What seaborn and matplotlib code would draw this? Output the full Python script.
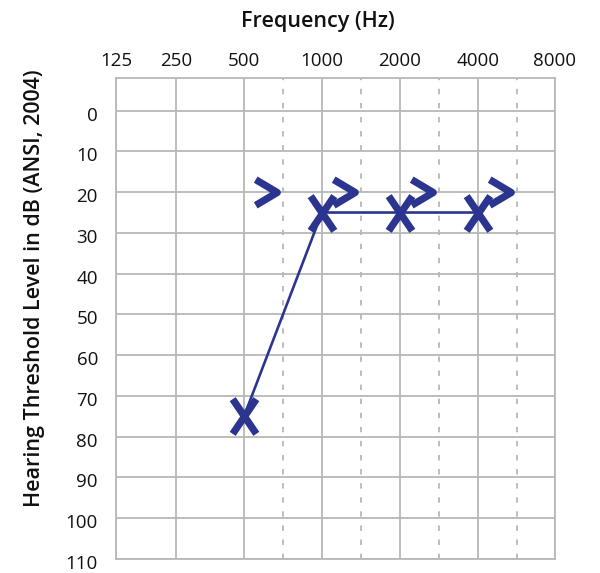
import numpy as np
import matplotlib
matplotlib.use("Agg")
import matplotlib.pyplot as plt
import matplotlib.transforms as mtransforms
from matplotlib.path import Path
import seaborn as sns

# ---- data ----
freq_labels = ["125", "250", "500", "1000", "2000", "4000", "8000"]
freqs_major = [125, 250, 500, 1000, 2000, 4000, 8000]
freqs_minor = [750, 1500, 3000, 6000]
db_ticks = [0, 10, 20, 30, 40, 50, 60, 70, 80, 90, 100, 110]

air_freq = [500, 1000, 2000, 4000]
air_db = [75, 25, 25, 25]
bone_freq = [500, 1000, 2000, 4000]
bone_db = [20, 20, 20, 20]

# ---- style ----
sns.set_style("white")
plt.rcParams["font.family"] = ["Open Sans", "DejaVu Sans"]

BLUE = "#2b3590"
GRID = "#b8b8b8"
TEXT = "#111111"

fig = plt.figure(figsize=(6.0, 5.73), dpi=100)
ax = fig.add_axes([116 / 600, 1 - 559 / 573, (555 - 116) / 600, (559 - 78) / 573])

# audiogram frequency scale (octaves drawn as on the printed form)
knot_f = np.array([125, 250, 500, 750, 1000, 1500, 2000, 3000, 4000, 6000, 8000], float)
knot_p = np.array([0, 60, 128, 167, 206, 245, 284, 323, 362, 401, 439], float)

def fwd(f):
    return np.interp(f, knot_f, knot_p)

def inv(p):
    return np.interp(p, knot_p, knot_f)

ax.set_xscale("function", functions=(fwd, inv))

# markers
x_path = Path([(-0.34, -0.5), (0.34, 0.5), (-0.34, 0.5), (0.34, -0.5)],
              [Path.MOVETO, Path.LINETO, Path.MOVETO, Path.LINETO])
chev_path = Path([(-0.42, 0.5), (0.42, 0.0), (-0.42, -0.5)],
                 [Path.MOVETO, Path.LINETO, Path.LINETO])

sns.lineplot(x=air_freq, y=air_db, ax=ax, color=BLUE, linewidth=1.9,
             marker=x_path, markersize=25, markeredgewidth=5.2,
             markerfacecolor="none", markeredgecolor=BLUE, sort=False)

offset = mtransforms.ScaledTranslation(22 / 100, 0, fig.dpi_scale_trans)
sns.lineplot(x=bone_freq, y=bone_db, ax=ax, color=BLUE, linestyle="",
             marker=chev_path, markersize=18.5, markeredgewidth=5.2,
             markerfacecolor="none", markeredgecolor=BLUE, sort=False,
             transform=ax.transData + offset)

ax.set_xlim(125, 8000)
ax.set_ylim(110, -8)

ax.set_xticks(freqs_major)
ax.set_xticklabels(freq_labels)
ax.set_xticks(freqs_minor, minor=True)
ax.set_yticks(db_ticks)
ax.set_yticklabels([str(v) for v in db_ticks])

ax.grid(which="major", color=GRID, linewidth=1.3)
ax.grid(which="minor", axis="x", color=GRID, linewidth=1.3, linestyle=(0, (3, 4.8)))
ax.set_axisbelow(True)

ax.xaxis.tick_top()
ax.tick_params(axis="x", which="both", length=0, pad=6, labelsize=13.5, labelcolor=TEXT)
ax.tick_params(axis="y", length=0, pad=13, labelsize=13.5, labelcolor=TEXT)
ax.tick_params(axis="x", which="minor", labeltop=False)

trans_y = mtransforms.ScaledTranslation(0, -3 / 100, fig.dpi_scale_trans)
for lab in ax.get_yticklabels():
    lab.set_transform(lab.get_transform() + trans_y)

for s in ax.spines.values():
    s.set_color(GRID)
    s.set_linewidth(1.3)

ax.set_xlabel("")
ax.set_ylabel("")
fig.text(318 / 600, 1 - 21 / 573, "Frequency (Hz)", ha="center", va="center",
         fontsize=15.5, fontweight="semibold", color=TEXT)
fig.text(35 / 600, 1 - 288 / 573, "Hearing Threshold Level in dB (ANSI, 2004)",
         ha="center", va="center", rotation=90, fontsize=15.5,
         fontweight="semibold", color=TEXT)

fig.savefig("out.png", dpi=100)
